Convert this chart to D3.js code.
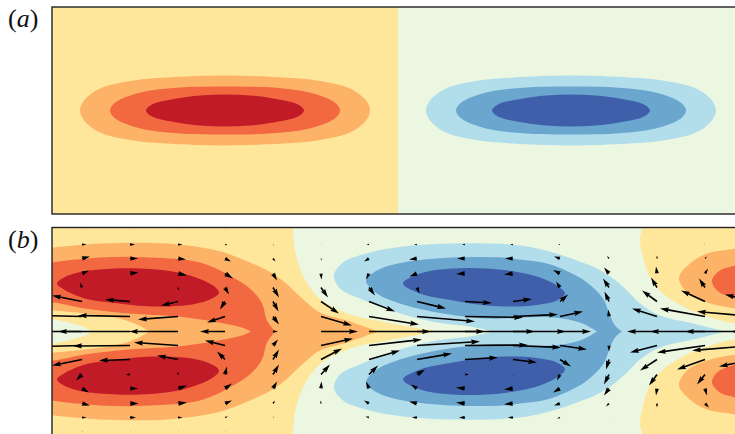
<!DOCTYPE html>
<html><head><meta charset="utf-8">
<script src="https://cdn.jsdelivr.net/npm/d3@7"></script>
<style>html,body{margin:0;padding:0;background:#fff;overflow:hidden}svg{display:block}</style>
</head><body><svg id="c" width="735" height="434"></svg>
<script>
// ---- palette (contour levels) ----
const cRed="#c01b27",cRedOrange="#f26841",cOrange="#fdb367",cYellow="#fee79b",cGreen="#ebf7e0",cLightBlue="#b2ddeb",cMidBlue="#6ba6cf",cBlue="#3f5faa";
// ---- panel (a): top-half contour outlines, mirrored about y=0 ----
const aRed1=[[28,0],[32,-10],[48,-22],[81,-30],[115,-33],[173,-35],[231,-33],[265,-30],[298,-22],[314,-10],[318,0]];
const aRed2=[[58,0],[62,-7],[81,-16],[115,-22],[173,-24],[231,-22],[265,-16],[284,-7],[288,0]];
const aRed3=[[94,0],[100,-6],[125,-12],[148,-15],[173,-16],[198,-15],[221,-12],[246,-6],[252,0]];
const aBlue1=[[374,0],[378,-10],[394,-22],[427,-30],[461,-33],[519,-35],[577,-33],[611,-30],[644,-22],[660,-10],[664,0]];
const aBlue2=[[404,0],[408,-7],[427,-16],[461,-22],[519,-24],[577,-22],[611,-16],[630,-7],[634,0]];
const aBlue3=[[440,0],[446,-6],[471,-12],[494,-15],[519,-16],[544,-15],[567,-12],[592,-6],[598,0]];
const aSplitX=346;
// ---- panel (b): chains run from midline to midline, mirrored ----
const bGreenMain=[[385,0],[351,-6],[325,-11],[301,-16],[271,-30],[258,-44],[249,-60],[243,-81],[241,-101],[241,-112],[588,-112],[588,-91],[591,-74],[598,-54],[611,-38],[635,-23],[658,-14],[683,-8],[700,-7],[700,0]];
const bGreenLeft=[[-5,0],[-5,-12.5],[2,-12],[20,-8],[33,-4],[39,0]];
const bOrangeLeft=[[-5,0],[-5,-84],[0,-84],[48,-88],[115,-88],[165,-81],[191,-72],[217,-60],[233,-49],[248,-35],[268,-19],[295,-11],[318,-3],[327,0]];
const bYellowLeft=[[-5,0],[-5,-21.5],[2,-21],[33,-18],[67,-13],[87,-6],[97,0]];
const bRedOrange=[[223,0],[215,-11],[210,-28],[200,-41],[183,-53],[148,-69],[98,-74],[48,-74],[0,-69],[-5,-68],[-5,-29],[2,-29],[33,-23],[77,-18],[125,-15],[167,-9],[190,-4],[199,0]];
const bRedLobe=[[5,-48],[12,-54],[26,-59],[48,-62],[88,-63],[131,-58],[161,-46],[167,-39],[160,-33],[140,-27],[100,-25],[67,-28],[33,-33],[12,-42]];
const bLightBlue=[[673,0],[641,-8],[608,-16],[588,-28],[575,-41],[561,-53],[545,-63],[525,-71],[501,-79],[468,-86],[401,-88],[351,-85],[318,-79],[291,-69],[282,-56],[288,-43],[308,-33],[345,-19],[385,-9],[418,-5],[441,0]];
const bMidBlue=[[570,0],[563,-6],[558,-16],[551,-33],[535,-49],[518,-59],[495,-68],[468,-72],[451,-74],[401,-74],[351,-69],[325,-61],[314,-51],[325,-38],[345,-29],[385,-19],[435,-13],[468,-14],[501,-14],[528,-9],[545,0]];
const bBlueLobe=[[351,-48],[368,-58],[401,-63],[435,-63],[468,-59],[488,-54],[505,-46],[513,-38],[505,-31],[488,-27],[468,-25],[435,-26],[401,-31],[368,-38]];
const bOrangeRight=[[683,-83],[655,-78],[638,-68],[627,-54],[635,-39],[655,-29],[683,-23],[710,-18],[720,-50],[710,-90]];
const bRedOrangeRight=[[683,-66],[668,-61],[660,-51],[665,-41],[683,-33],[710,-25],[720,-50],[710,-75]];
// ---- panel (b): velocity field ----
const quiverX=[30,78,126,173,221,269,317,365,413,461,508,557,605,653,701,749];
const quiverY=[-102,-87,-73,-58,-44,-30,-15,0,14,28,43,57,72,86,100];
const quiverU=[
[.6,4.5,8,7,-2,-30,-40,-46,-40,-30,-6,7,8,4.5,1],
[.6,5,8,8.5,.6,-25,-52,-72,-57,-31,-4,8,8.5,6,.6],
[.6,4.5,8,9,1,-17,-40,-49,-44,-21,0,9,9,4.5,.6],
[.6,2.5,6,8,4,-5,-18,-25,-20,-8,2,7,7,3,.6],
[.4,1,2.5,4,6,5.5,6,5,5,6,6,4,2,1,.4],
[.4,.6,1,.5,7,18,31,37,32,21,9,.5,-.3,.4,.4],
[.4,-2.5,-5,-3,6,26,50,62,53,31,9,-3,-5,-3.5,.4],
[.4,-3,-8,-7.5,2.5,29,58,68,63,35,8,-6,-8,-5,.4],
[.4,-3,-8,-9,.5,27,58,70,63,33,4,-9,-9,-6,.4],
[.4,-3,-8,-9,.5,19,45,53,48,24,1,-9,-9,-5,.4],
[.4,-2,-6,-7,-4,8,23,31,27,11,-3,-7,-6,-3,.4],
[.4,.4,-2,-5,-6,-4.5,-.7,.6,0,-3,-5,-5,-3,.4,.4],
[.4,.4,0,-1,-6,-15,-25,-30,-27,-17,-8,-1,0,.4,.4],
[.4,-1,2,3,-6,-24,-45,-55,-48,-28,-8,2,4,.4,.4],
[0,0,0,0,0,-28,-56,-68,-61,-34,0,0,0,0,0],
[0,0,0,0,0,0,0,-70,0,0,0,0,0,0,0]];
const quiverV=[
[0,0,-2,-3,-5,-6,-1,0,1,6,6,4,2,0,0],
[0,0,0,-1,0,-2,-1,0,.5,1,0,0,0,0,0],
[0,0,1,2,3,4,3,0,-3,-4,-3,-3,-1,0,0],
[0,.5,3,5,7,8,6,0,-5,-8,-8,-5,-3,-1,0],
[0,1,3,7,10,10,8,0,-6,-10,-10,-7,-3,-1,0],
[0,0,2,6,10,12,9,0,-7,-11,-10,-7,-3,0,0],
[0,0,3,6,8,10,8,0,-6,-9,-9,-7,-3,-1,0],
[0,0,1,3,6,7,5,0,-4,-6,-5,-4,-2,0,0],
[0,0,0,.5,0,1.5,1,0,-.5,-2,0,-1,-1,0,0],
[0,0,0,1,.5,-2.5,-2,0,2,3,1,1,.7,0,0],
[0,0,-2,-3.5,-6,-7,-5,0,4,7,6,4,2,1,0],
[0,0,-2.5,-6,-9,-10,-7,0,6,10,10,7,3,.4,0],
[0,0,-3,-7,-10,-11,-8,0,7,11,11,7,4,0,0],
[0,0,-2,-5,-9,-11,-8,0,7,10,10,7,4,0,0],
[0,0,0,0,0,-7,-5,0,5,7,0,0,0,0,0],
[0,0,0,0,0,0,0,0,0,0,0,0,0,0,0]];

// ---- drawing ----
const svg=d3.select("#c");
const xS=d3.scaleLinear().domain([0,683]).range([52,735]);
const yA=d3.scaleLinear().domain([-103.5,103.5]).range([7,214]);
const yB=d3.scaleLinear().domain([-104,104]).range([227.5,435.5]);
const defs=svg.append("defs");
function panel(id,yS){
  defs.append("clipPath").attr("id",id).append("rect")
    .attr("x",xS(0)).attr("y",yS.range()[0]).attr("width",683).attr("height",yS.range()[1]-yS.range()[0]);
  return svg.append("g").attr("clip-path",`url(#${id})`);
}
const mirror=c=>c.map(([x,y])=>[x,-y]);
function lineFor(yS,curve){return d3.line().x(d=>xS(d[0])).y(d=>yS(d[1])).curve(curve);}
function lens(g,yS,chain,fill){
  const loop=chain.concat(mirror(chain).slice(1,-1).reverse());
  g.append("path").attr("d",lineFor(yS,d3.curveCatmullRomClosed.alpha(.5))(loop)).attr("fill",fill);
}
function tongue(g,yS,chain,fill){
  const l=lineFor(yS,d3.curveCatmullRom.alpha(.5));
  const back=mirror(chain).reverse();
  g.append("path").attr("d",l(chain)+"L"+l(back).slice(1)+"Z").attr("fill",fill);
}
function lobes(g,yS,pts,fill){
  const l=lineFor(yS,d3.curveCatmullRomClosed.alpha(.5));
  [pts,mirror(pts)].forEach(p=>g.append("path").attr("d",l(p)).attr("fill",fill));
}
function frame(yS){
  svg.append("rect").attr("x",xS(0)).attr("y",yS.range()[0]).attr("width",700).attr("height",yS.range()[1]-yS.range()[0])
    .attr("fill","none").attr("stroke","#222").attr("stroke-width",1.4);
}
function label(letter,y){
  const t=svg.append("text").attr("x",8).attr("y",y).attr("font-family","'Liberation Serif',serif").attr("font-size",26).attr("fill","#111");
  t.append("tspan").text("(");
  t.append("tspan").attr("font-style","italic").text(letter);
  t.append("tspan").text(")");
}
// (a)
const ga=panel("pa",yA);
ga.append("rect").attr("x",xS(0)).attr("y",yA.range()[0]).attr("width",xS(aSplitX)-xS(0)).attr("height",207).attr("fill",cYellow);
ga.append("rect").attr("x",xS(aSplitX)).attr("y",yA.range()[0]).attr("width",xS(683)-xS(aSplitX)).attr("height",207).attr("fill",cGreen);
[[aRed1,cOrange],[aRed2,cRedOrange],[aRed3,cRed],[aBlue1,cLightBlue],[aBlue2,cMidBlue],[aBlue3,cBlue]].forEach(([c,f])=>lens(ga,yA,c,f));
frame(yA);
// (b)
const gb=panel("pb",yB);
gb.append("rect").attr("x",xS(0)).attr("y",yB.range()[0]).attr("width",683).attr("height",208).attr("fill",cYellow);
tongue(gb,yB,bGreenMain,cGreen);
tongue(gb,yB,bOrangeLeft,cOrange);
tongue(gb,yB,bYellowLeft,cYellow);
tongue(gb,yB,bGreenLeft,cGreen);
tongue(gb,yB,bRedOrange,cRedOrange);
lobes(gb,yB,bRedLobe,cRed);
tongue(gb,yB,bLightBlue,cLightBlue);
tongue(gb,yB,bMidBlue,cMidBlue);
lobes(gb,yB,bBlueLobe,cBlue);
lobes(gb,yB,bOrangeRight,cOrange);
lobes(gb,yB,bRedOrangeRight,cRedOrange);
// quiver
const w=1.6,hl=9,hal=8,hw=5.2;
const arrowLine=d3.line();
quiverX.forEach((qx,i)=>quiverY.forEach((qy,j)=>{
  const u=quiverU[i][j],v=quiverV[i][j];
  const x0=xS(qx),y0=yB(qy),dx=xS(qx+u)-x0,dy=yB(qy+v)-y0,L=Math.hypot(dx,dy);
  if(L===0)return;
  const k=L<hl?L/hl:1,len=L<hl?hl:L;
  const s=[[0,w/2],[len-hal,w/2],[len-hl,hw/2],[len,0],[len-hl,-hw/2],[len-hal,-w/2],[0,-w/2]];
  gb.append("path").attr("d",arrowLine(s.map(p=>[p[0]*k,p[1]*k]))+"Z").attr("fill","#000")
    .attr("transform",`translate(${x0},${y0}) rotate(${Math.atan2(dy,dx)*180/Math.PI})`);
}));
frame(yB);
label("a",27);
label("b",248);
</script></body></html>
